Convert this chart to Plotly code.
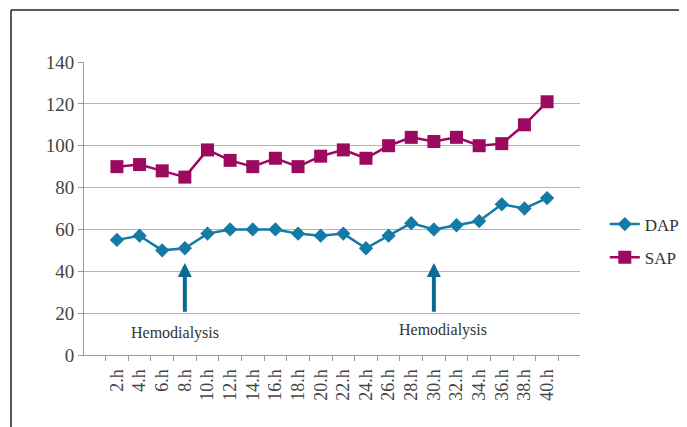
import plotly.graph_objects as go

hours = ["2.h", "4.h", "6.h", "8.h", "10.h", "12.h", "14.h", "16.h", "18.h", "20.h",
         "22.h", "24.h", "26.h", "28.h", "30.h", "32.h", "34.h", "36.h", "38.h", "40.h"]
dap = [55, 57, 50, 51, 58, 60, 60, 60, 58, 57, 58, 51, 57, 63, 60, 62, 64, 72, 70, 75]
sap = [90, 91, 88, 85, 98, 93, 90, 94, 90, 95, 98, 94, 100, 104, 102, 104, 100, 101, 110, 121]
events = ["8.h", "30.h"]
event_label = "Hemodialysis"

DAP_C = "#137BA6"
SAP_C = "#9B0A5E"
ARROW_C = "#0B6A92"
FONT = "Liberation Serif"

fig = go.Figure()
fig.add_trace(go.Scatter(x=hours, y=dap, name="DAP", mode="lines+markers", legendgroup="dap",
                         line=dict(color=DAP_C, width=2.5),
                         marker=dict(symbol="diamond", size=11, color=DAP_C)))
fig.add_trace(go.Scatter(x=hours, y=sap, name="SAP", mode="lines+markers", legendgroup="sap",
                         line=dict(color=SAP_C, width=2.5),
                         marker=dict(symbol="square", size=13, color=SAP_C)))

for ev in events:
    fig.add_annotation(x=ev, y=44, ax=ev, ay=20, xref="x", yref="y", axref="x", ayref="y",
                       text="", showarrow=True, arrowhead=2, arrowsize=0.7,
                       arrowwidth=4, arrowcolor=ARROW_C)

fig.add_annotation(x=events[0], y=10.7, xref="x", yref="y", text=event_label, showarrow=False,
                   xshift=-10, font=dict(family=FONT, size=16, color="#333"))
fig.add_annotation(x=events[1], y=12, xref="x", yref="y", text=event_label, showarrow=False,
                   xshift=9, font=dict(family=FONT, size=16, color="#333"))

# page has an 8px body margin; figure coords = page coords - 8
OFF = 8
W, H = 687 - OFF, 427 - OFF
L = 84 - OFF
T = 62 - OFF
R = W - (580 - OFF)
B = H - (355 - OFF)

def px_x(p):
    return (p - OFF - L) / (W - L - R)
def px_y(p):
    return (H - B - (p - OFF)) / (H - T - B)

fig.add_shape(type="line", xref="paper", yref="paper", x0=px_x(11), x1=px_x(720),
              y0=px_y(10), y1=px_y(10), line=dict(color="#222", width=1.5))
fig.add_shape(type="line", xref="paper", yref="paper", x0=px_x(11), x1=px_x(11),
              y0=px_y(10), y1=px_y(460), line=dict(color="#222", width=1.5))

fig.update_layout(
    width=W, height=H,
    margin=dict(l=L, r=R, t=T, b=B, autoexpand=False),
    paper_bgcolor="white", plot_bgcolor="white",
    font=dict(family=FONT, size=17, color="#444"),
    showlegend=True,
    legend=dict(x=1.05, y=px_y(241), xanchor="left", yanchor="middle",
                font=dict(family=FONT, size=17, color="#333"),
                tracegroupgap=8, itemwidth=30, bgcolor="rgba(0,0,0,0)"),
    xaxis=dict(type="category", tickangle=-90, showgrid=False, showline=True,
               linecolor="#999", linewidth=1, ticks="outside", tickson="boundaries",
               ticklen=5, tickcolor="#999", ticklabelstandoff=6,
               tickfont=dict(family=FONT, size=18, color="#444")),
    yaxis=dict(range=[0, 140], dtick=20, showgrid=True, gridcolor="#B4B4B4", gridwidth=1,
               showline=True, linecolor="#999", linewidth=1, ticks="outside", ticklen=5,
               tickcolor="#999", zeroline=False, tickfont=dict(family=FONT, size=19, color="#444")),
)

fig.write_html("out.html")
